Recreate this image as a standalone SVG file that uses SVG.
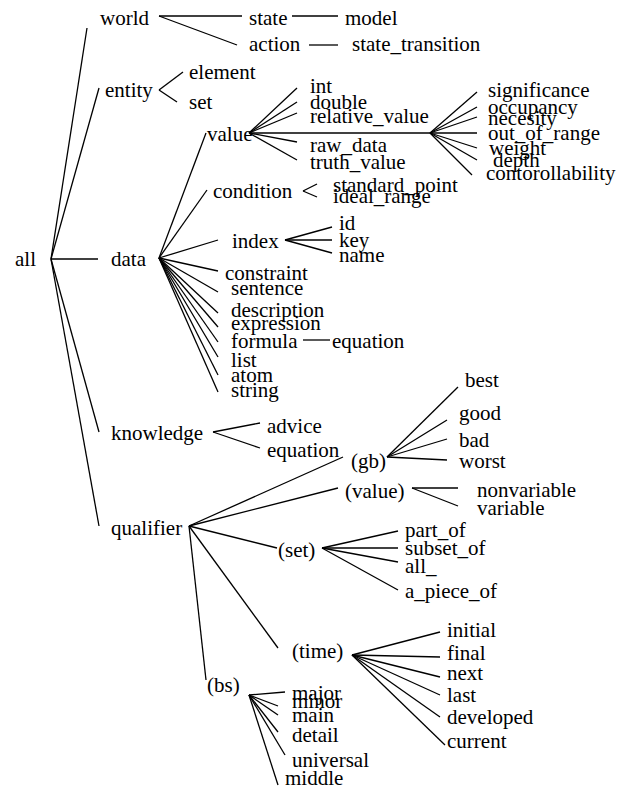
<svg xmlns="http://www.w3.org/2000/svg" width="632" height="791" viewBox="0 0 632 791">
<style>
text{font-family:"Liberation Serif","Times New Roman",serif;font-size:21px;fill:#000}
.c line{stroke:#000;stroke-width:1.3;fill:none}
</style>
<rect width="632" height="791" fill="#fff"/>
<g class="c" id="connectors">
<line x1="51" y1="259" x2="87" y2="28"/>
<line x1="51" y1="259" x2="99" y2="88"/>
<line x1="51" y1="259" x2="98" y2="259"/>
<line x1="51" y1="259" x2="99" y2="432"/>
<line x1="51" y1="259" x2="99" y2="526"/>
<line x1="159" y1="16" x2="242" y2="16"/>
<line x1="159" y1="16" x2="237" y2="45"/>
<line x1="292" y1="16" x2="338" y2="16"/>
<line x1="309" y1="45" x2="338" y2="45"/>
<line x1="159" y1="90" x2="183" y2="72"/>
<line x1="159" y1="90" x2="177" y2="102"/>
<line x1="159" y1="258" x2="206" y2="133"/>
<line x1="159" y1="258" x2="207" y2="190"/>
<line x1="159" y1="258" x2="218" y2="240"/>
<line x1="159" y1="258" x2="218" y2="271"/>
<line x1="159" y1="258" x2="218" y2="292"/>
<line x1="159" y1="258" x2="218" y2="313"/>
<line x1="159" y1="258" x2="218" y2="327"/>
<line x1="159" y1="258" x2="218" y2="342"/>
<line x1="159" y1="258" x2="218" y2="357"/>
<line x1="159" y1="258" x2="218" y2="375"/>
<line x1="159" y1="258" x2="218" y2="392"/>
<line x1="303" y1="340" x2="330" y2="340"/>
<line x1="249" y1="133" x2="297" y2="88"/>
<line x1="249" y1="133" x2="297" y2="102"/>
<line x1="249" y1="133" x2="297" y2="113"/>
<line x1="249" y1="133" x2="430" y2="133"/>
<line x1="249" y1="133" x2="297" y2="142"/>
<line x1="249" y1="133" x2="297" y2="160"/>
<line x1="430" y1="133" x2="477" y2="92"/>
<line x1="430" y1="133" x2="477" y2="107"/>
<line x1="430" y1="133" x2="477" y2="117"/>
<line x1="430" y1="133" x2="477" y2="133"/>
<line x1="430" y1="133" x2="477" y2="148"/>
<line x1="430" y1="133" x2="477" y2="160"/>
<line x1="430" y1="133" x2="472" y2="175"/>
<line x1="303" y1="191" x2="317" y2="184"/>
<line x1="303" y1="191" x2="317" y2="197"/>
<line x1="285" y1="240" x2="332" y2="227"/>
<line x1="285" y1="240" x2="332" y2="240"/>
<line x1="285" y1="240" x2="332" y2="253"/>
<line x1="213" y1="432" x2="260" y2="423"/>
<line x1="213" y1="432" x2="260" y2="448"/>
<line x1="189" y1="526" x2="343" y2="457"/>
<line x1="189" y1="526" x2="338" y2="488"/>
<line x1="189" y1="526" x2="277" y2="548"/>
<line x1="189" y1="526" x2="278" y2="648"/>
<line x1="189" y1="526" x2="206" y2="680"/>
<line x1="387" y1="457" x2="458" y2="387"/>
<line x1="387" y1="457" x2="447" y2="420"/>
<line x1="387" y1="457" x2="447" y2="439"/>
<line x1="387" y1="457" x2="447" y2="460"/>
<line x1="412" y1="488" x2="458" y2="488"/>
<line x1="412" y1="488" x2="458" y2="506"/>
<line x1="322" y1="548" x2="398" y2="531"/>
<line x1="322" y1="548" x2="398" y2="548"/>
<line x1="322" y1="548" x2="398" y2="562"/>
<line x1="322" y1="548" x2="398" y2="590"/>
<line x1="352" y1="655" x2="440" y2="632"/>
<line x1="352" y1="655" x2="440" y2="657"/>
<line x1="352" y1="655" x2="440" y2="677"/>
<line x1="352" y1="655" x2="440" y2="695"/>
<line x1="352" y1="655" x2="440" y2="717"/>
<line x1="352" y1="655" x2="445" y2="745"/>
<line x1="249" y1="695" x2="285" y2="692"/>
<line x1="249" y1="695" x2="278" y2="706"/>
<line x1="249" y1="695" x2="278" y2="715"/>
<line x1="249" y1="695" x2="278" y2="732"/>
<line x1="249" y1="695" x2="285" y2="755"/>
<line x1="249" y1="695" x2="278" y2="785"/>
</g>
<g id="all"><text x="15" y="266">all</text></g>
<g id="world"><text x="100" y="25">world</text></g>
<g id="state"><text x="249" y="25">state</text></g>
<g id="model"><text x="345" y="25">model</text></g>
<g id="action"><text x="249" y="51">action</text></g>
<g id="state_transition"><text x="352" y="51">state_transition</text></g>
<g id="entity"><text x="105" y="97">entity</text></g>
<g id="element"><text x="189" y="79">element</text></g>
<g id="set"><text x="189" y="109">set</text></g>
<g id="data"><text x="111" y="266">data</text></g>
<g id="value"><text x="207" y="141">value</text></g>
<g id="int"><text x="310" y="93">int</text></g>
<g id="double"><text x="310" y="109">double</text></g>
<g id="relative_value"><text x="310" y="123">relative_value</text></g>
<g id="raw_data"><text x="310" y="152">raw_data</text></g>
<g id="truth_value"><text x="310" y="169">truth_value</text></g>
<g id="significance"><text x="488" y="97">significance</text></g>
<g id="occupancy"><text x="488" y="114">occupancy</text></g>
<g id="necesity"><text x="488" y="125">necesity</text></g>
<g id="out_of_range"><text x="488" y="140">out_of_range</text></g>
<g id="weight"><text x="489" y="155">weight</text></g>
<g id="depth"><text x="493" y="167">depth</text></g>
<g id="contorollability"><text x="486" y="180">contorollability</text></g>
<g id="condition"><text x="213" y="198">condition</text></g>
<g id="standard_point"><text x="333" y="192">standard_point</text></g>
<g id="ideal_range"><text x="333" y="203">ideal_range</text></g>
<g id="index"><text x="232" y="248">index</text></g>
<g id="id"><text x="339" y="230">id</text></g>
<g id="key"><text x="339" y="247">key</text></g>
<g id="name"><text x="339" y="262">name</text></g>
<g id="constraint"><text x="225" y="280">constraint</text></g>
<g id="sentence"><text x="231" y="295">sentence</text></g>
<g id="description"><text x="231" y="317">description</text></g>
<g id="expression"><text x="231" y="330">expression</text></g>
<g id="formula"><text x="231" y="348">formula</text></g>
<g id="equation1"><text x="332" y="348">equation</text></g>
<g id="list"><text x="231" y="367">list</text></g>
<g id="atom"><text x="231" y="382">atom</text></g>
<g id="string"><text x="231" y="397">string</text></g>
<g id="knowledge"><text x="111" y="440">knowledge</text></g>
<g id="advice"><text x="267" y="433">advice</text></g>
<g id="equation2"><text x="267" y="457">equation</text></g>
<g id="qualifier"><text x="111" y="535">qualifier</text></g>
<g id="gb"><text x="351" y="468">(gb)</text></g>
<g id="best"><text x="465" y="387">best</text></g>
<g id="good"><text x="459" y="420">good</text></g>
<g id="bad"><text x="459" y="447">bad</text></g>
<g id="worst"><text x="459" y="468">worst</text></g>
<g id="qvalue"><text x="345" y="498">(value)</text></g>
<g id="nonvariable"><text x="477" y="497">nonvariable</text></g>
<g id="variable"><text x="477" y="515">variable</text></g>
<g id="qset"><text x="278" y="557">(set)</text></g>
<g id="part_of"><text x="405" y="537">part_of</text></g>
<g id="subset_of"><text x="405" y="555">subset_of</text></g>
<g id="all_"><text x="405" y="573">all_</text></g>
<g id="a_piece_of"><text x="405" y="598">a_piece_of</text></g>
<g id="time"><text x="292" y="658">(time)</text></g>
<g id="initial"><text x="447" y="637">initial</text></g>
<g id="final"><text x="447" y="660">final</text></g>
<g id="next"><text x="447" y="680">next</text></g>
<g id="last"><text x="447" y="702">last</text></g>
<g id="developed"><text x="447" y="724">developed</text></g>
<g id="current"><text x="447" y="748">current</text></g>
<g id="bs"><text x="207" y="692">(bs)</text></g>
<g id="major"><text x="292" y="700">major</text></g>
<g id="minor"><text x="292" y="708">minor</text></g>
<g id="main"><text x="292" y="722">main</text></g>
<g id="detail"><text x="292" y="742">detail</text></g>
<g id="universal"><text x="292" y="767">universal</text></g>
<g id="middle"><text x="285" y="785">middle</text></g>
</svg>
